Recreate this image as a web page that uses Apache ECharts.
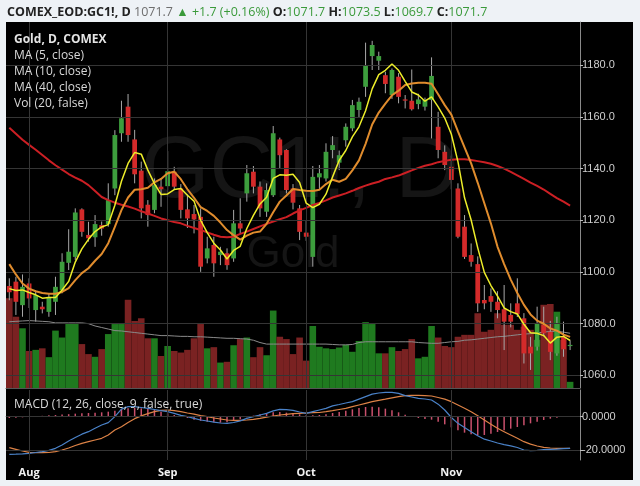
<!DOCTYPE html>
<html><head><meta charset="utf-8">
<script src="https://cdn.jsdelivr.net/npm/echarts@6/dist/echarts.min.js"></script>
<style>html,body{margin:0;padding:0;background:#eef2f6;}#c{width:640px;height:486px;}</style>
</head><body><div id="c"></div>
<script>
const dates = ['2015-07-29','2015-07-30','2015-07-31',
'2015-08-03','2015-08-04','2015-08-05','2015-08-06','2015-08-07','2015-08-10','2015-08-11','2015-08-12','2015-08-13','2015-08-14','2015-08-17','2015-08-18','2015-08-19','2015-08-20','2015-08-21','2015-08-24','2015-08-25','2015-08-26','2015-08-27','2015-08-28','2015-08-31',
'2015-09-01','2015-09-02','2015-09-03','2015-09-04','2015-09-08','2015-09-09','2015-09-10','2015-09-11','2015-09-14','2015-09-15','2015-09-16','2015-09-17','2015-09-18','2015-09-21','2015-09-22','2015-09-23','2015-09-24','2015-09-25','2015-09-28','2015-09-29','2015-09-30',
'2015-10-01','2015-10-02','2015-10-05','2015-10-06','2015-10-07','2015-10-08','2015-10-09','2015-10-12','2015-10-13','2015-10-14','2015-10-15','2015-10-16','2015-10-19','2015-10-20','2015-10-21','2015-10-22','2015-10-23','2015-10-26','2015-10-27','2015-10-28','2015-10-29','2015-10-30',
'2015-11-02','2015-11-03','2015-11-04','2015-11-05','2015-11-06','2015-11-09','2015-11-10','2015-11-11','2015-11-12','2015-11-13','2015-11-16','2015-11-17','2015-11-18','2015-11-19','2015-11-20','2015-11-23','2015-11-24','2015-11-25','2015-11-27'];

const monthStarts = ['2015-08-03','2015-09-01','2015-10-01','2015-11-02'];
const monthLabels = ['Aug','Sep','Oct','Nov'];
const priceTicks = [1060,1080,1100,1120,1140,1160,1180];
const macdTicks = [-20,0];

const opens = [1094.5,1096.2,1087.1,1095.5,1085.2,1086.5,1084.5,1088.4,1092.9,1103.5,
1105.8,1124.2,1114.3,1113.4,1118.1,1118.5,1132.3,1153.7,1164.0,1151.3,
1139.2,1126.0,1124.0,1133.0,1133.2,1138.8,1132.3,1124.2,1122.4,1121.3,
1105.2,1110.4,1106.5,1107.2,1105.2,1118.8,1130.4,1138.8,1133.0,1123.3,
1129.7,1151.3,1147.2,1132.3,1124.6,1115.2,1105.8,1136.6,1136.2,1147.2,
1142.3,1151.0,1155.6,1162.7,1171.7,1183.6,1181.8,1176.2,1168.5,1175.6,
1166.8,1166.3,1165.0,1164.0,1166.6,1156.2,1146.5,1140.7,1132.3,1117.5,
1106.5,1103.0,1089.1,1090.6,1088.4,1085.5,1083.3,1087.8,1082.0,1071.0,
1071.0,1079.4,1076.8,1068.4,1074.8,1071.7];
const highs = [1097.5,1098.1,1099.0,1097.5,1092.7,1088.4,1091.7,1098.1,1107.2,1116.5,
1124.6,1124.6,1119.4,1122.0,1119.5,1134.3,1154.9,1166.3,1168.9,1155.0,
1142.7,1127.8,1136.2,1136.2,1146.8,1140.7,1134.0,1130.0,1125.9,1124.6,
1113.6,1113.6,1109.7,1109.1,1124.0,1128.5,1141.4,1141.0,1135.0,1134.3,
1156.5,1152.0,1147.5,1134.0,1125.9,1120.0,1141.0,1141.4,1149.8,1152.6,
1147.0,1157.5,1166.6,1167.5,1188.8,1189.5,1185.3,1177.5,1178.8,1177.0,
1168.5,1178.4,1169.0,1167.5,1183.1,1162.0,1149.0,1145.0,1134.3,1122.0,
1111.0,1106.0,1094.9,1093.6,1092.5,1094.9,1087.8,1097.5,1084.0,1074.8,
1086.5,1086.5,1081.0,1082.6,1080.7,1073.5];
const lows = [1089.0,1083.3,1082.6,1086.0,1080.7,1083.9,1082.6,1083.3,1091.7,1100.7,
1104.6,1113.6,1111.7,1109.7,1114.0,1117.5,1129.7,1150.4,1150.4,1134.3,
1120.7,1117.5,1122.7,1125.2,1131.7,1131.7,1120.7,1117.0,1114.9,1100.0,
1103.3,1098.1,1102.6,1100.8,1103.9,1114.9,1127.2,1130.4,1121.3,1121.3,
1129.0,1140.1,1130.4,1124.2,1112.3,1112.0,1102.0,1131.7,1135.0,1144.0,
1139.4,1148.5,1154.5,1160.0,1167.8,1178.2,1178.2,1169.2,1167.0,1165.3,
1163.3,1162.5,1163.0,1162.5,1151.7,1144.0,1139.4,1132.0,1113.0,1105.0,
1102.0,1084.5,1085.5,1084.5,1082.0,1069.7,1078.5,1082.5,1064.5,1062.0,
1069.5,1075.0,1065.8,1067.5,1067.1,1069.7];
const closes = [1092.1,1088.4,1094.2,1089.7,1091.0,1085.5,1090.3,1094.2,1103.9,1107.8,
1123.0,1115.5,1113.0,1118.5,1116.8,1127.8,1153.0,1159.5,1153.0,1137.8,
1124.6,1122.0,1133.6,1132.0,1139.0,1133.0,1124.0,1120.7,1120.3,1102.0,
1109.1,1103.3,1107.8,1102.6,1118.8,1116.8,1138.2,1133.0,1124.6,1131.7,
1153.7,1145.2,1131.7,1126.8,1115.5,1113.6,1136.8,1138.2,1146.5,1149.1,
1145.2,1156.2,1164.6,1165.9,1180.1,1187.9,1183.6,1172.8,1178.2,1167.8,
1166.5,1163.0,1166.8,1166.6,1175.9,1147.2,1141.4,1135.6,1113.6,1105.8,
1103.9,1087.8,1087.8,1088.4,1085.2,1080.7,1080.7,1083.6,1068.4,1068.4,
1080.0,1076.2,1069.0,1080.0,1070.0,1071.7];

const ma5 = [1093.5,1092.8,1093.0,1092.0,1091.1,1089.8,1090.1,1090.1,1093.0,1096.3,
1103.8,1108.9,1112.6,1115.6,1117.4,1118.3,1125.8,1135.1,1142.0,1146.2,
1145.6,1139.4,1134.2,1130.0,1130.2,1131.9,1132.3,1129.7,1127.4,1120.0,
1115.2,1111.1,1108.5,1105.0,1108.3,1109.9,1116.8,1121.9,1126.3,1128.9,
1136.2,1137.6,1137.4,1137.8,1134.6,1126.6,1124.9,1126.2,1130.1,1136.8,
1143.2,1147.0,1152.3,1156.2,1162.4,1170.9,1176.4,1178.1,1180.5,1178.1,
1173.8,1169.7,1168.5,1166.1,1167.8,1163.9,1159.6,1153.3,1142.7,1128.7,
1120.1,1109.3,1099.8,1094.7,1090.6,1086.0,1084.6,1083.7,1079.7,1076.4,
1076.2,1075.3,1072.4,1074.7,1075.0,1073.4];
const ma10 = [1103.0,1099.0,1095.5,1093.5,1092.5,1091.8,1091.5,1091.5,1092.2,1093.7,
1096.8,1099.5,1101.4,1104.3,1106.9,1111.1,1117.4,1123.9,1128.8,1131.8,
1132.0,1132.6,1134.7,1136.0,1138.2,1138.8,1135.9,1132.0,1128.7,1125.1,
1123.6,1121.7,1119.1,1116.2,1114.2,1112.5,1114.0,1115.2,1115.6,1118.6,
1123.1,1127.2,1129.6,1132.1,1131.7,1131.4,1131.3,1131.8,1134.0,1135.7,
1134.9,1136.0,1139.3,1143.2,1149.6,1157.1,1161.7,1165.2,1168.4,1170.2,
1172.4,1173.0,1173.3,1173.3,1172.9,1168.8,1164.6,1160.9,1154.4,1148.2,
1142.0,1134.5,1126.6,1118.7,1109.7,1103.0,1097.0,1091.8,1087.2,1083.5,
1081.1,1079.9,1078.1,1077.2,1075.7,1074.8];
const ma40 = [1155.8,1153.5,1151.2,1149.2,1147.3,1145.3,1143.2,1141.3,1139.6,1137.9,
1136.5,1135.3,1133.6,1131.3,1129.0,1127.8,1126.8,1126.0,1125.3,1124.5,
1123.5,1122.6,1121.7,1120.7,1120.0,1119.3,1118.8,1117.8,1117.0,1116.2,
1115.3,1114.4,1113.6,1113.4,1113.6,1114.7,1115.6,1116.6,1117.6,1118.6,
1119.5,1120.4,1121.2,1122.6,1123.8,1124.8,1125.9,1126.7,1127.7,1128.8,
1129.6,1130.4,1131.4,1132.5,1133.4,1134.2,1134.9,1136.0,1136.6,1137.3,
1138.3,1139.3,1140.3,1141.1,1141.7,1142.5,1143.0,1143.4,1143.6,1143.6,
1143.3,1142.9,1142.5,1141.9,1141.0,1140.0,1138.7,1137.4,1136.0,1134.6,
1133.3,1131.9,1130.2,1128.6,1127.2,1125.7];

const volumes = [233,185,155,96,99,103,80,149,131,168,
168,114,88,81,101,140,166,166,229,174,
181,129,129,83,109,96,92,99,129,166,
103,106,66,68,111,127,131,80,106,85,
201,133,127,88,131,71,161,107,103,101,
105,112,94,122,171,166,90,90,106,96,
101,127,77,81,161,131,109,106,133,138,
138,194,146,151,194,164,164,151,159,151,
125,216,218,198,125,16];
const volMA = [172,173,174,175,174,173,172,169,169,169,
169,169,167,161,157,153,149,148,146,144,
142,140,138,136,136,135,134,134,133,133,
132,131,130,129,129,128,127,124,118,114,
114,114,114,114,114,114,114,114,114,113,
112,112,113,118,120,120,120,120,120,120,
120,120,118,117,116,116,118,120,121,124,
125,127,129,131,133,134,136,138,140,141,
143,145,147,147,145,142];

const macdLine = [-22.6,-22.5,-22.3,-22.0,-21.5,-21.0,-20.2,-19.0,-17.0,-14.6,
-12.5,-10.5,-9.0,-7.0,-5.0,-3.6,0.0,4.5,6.0,6.0,
5.5,5.0,4.3,3.6,3.0,2.0,0.8,0.0,-1.0,-2.0,
-2.6,-3.3,-3.8,-4.0,-3.5,-2.5,-1.0,0.0,1.0,2.0,
3.5,4.4,4.2,3.8,2.8,2.0,3.0,4.0,5.0,6.5,
7.3,8.2,9.0,10.5,12.0,13.5,14.2,14.6,14.6,14.0,
12.6,11.8,11.0,10.6,10.0,7.5,4.0,-0.5,-4.0,-6.5,
-9.0,-11.5,-13.5,-14.6,-15.8,-16.8,-17.5,-18.5,-20.0,-20.4,
-20.2,-19.8,-19.6,-19.5,-19.2,-19.0];
const signalLine = [-18.6,-19.6,-20.6,-21.4,-21.6,-21.6,-21.5,-21.0,-20.0,-18.8,
-17.3,-16.0,-15.0,-14.0,-13.0,-11.0,-8.0,-6.0,-3.5,-1.2,
0.5,1.8,3.0,3.8,4.0,3.6,3.0,2.2,1.5,0.6,
0.0,-0.8,-1.4,-2.0,-2.2,-2.2,-2.0,-1.6,-1.0,-0.3,
0.4,1.0,1.4,1.8,2.0,2.2,2.4,2.5,3.0,3.6,
4.3,5.0,6.0,7.0,8.0,9.0,9.8,10.5,11.3,12.0,
12.6,12.8,12.8,12.6,12.4,11.5,10.5,9.0,7.0,5.0,
3.0,0.5,-2.0,-4.5,-7.0,-9.0,-11.0,-13.0,-15.0,-16.5,
-17.6,-18.4,-18.8,-19.0,-19.0,-19.0];
const histogram = [-0.8,-0.6,-0.4,-0.2,0.3,0.5,0.8,1.0,1.3,1.5,
1.8,2.0,2.2,2.4,2.6,3.0,3.6,4.5,5.0,5.2,
5.0,4.6,4.0,3.0,2.0,1.0,0.2,-0.8,-1.8,-2.5,
-3.0,-3.4,-3.6,-3.4,-2.6,-1.6,-0.4,0.6,1.4,2.0,
2.6,2.8,2.4,2.0,1.4,0.8,0.8,1.0,1.5,2.2,
2.8,3.6,4.4,5.2,5.8,6.0,5.6,4.8,3.8,2.6,
1.2,0.0,-0.8,-1.4,-1.8,-3.0,-4.6,-6.4,-8.2,-9.6,
-10.6,-11.2,-11.0,-10.2,-9.2,-8.2,-7.2,-6.2,-5.2,-4.0,
-3.0,-2.0,-1.2,-0.6,-0.2,0.1];

// ---------- build ----------
const cats = dates.concat(['']);
const n = dates.length;
const UP = '#3d9e3d', DOWN = '#d42a2a', WICK = '#a8a8a8';
const candleData = dates.map((d, i) => [i, opens[i], closes[i], lows[i], highs[i]]);
const volData = volumes.map((v, i) => ({value: v, itemStyle: {color: closes[i] >= opens[i] ? '#1f7a1f' : '#7a2222'}}));
const last = n - 1;
const lastC = closes[last], prevC = closes[last - 1];
const chg = lastC - prevC, pct = chg / prevC * 100;
const gridLine = {color: '#353535', width: 1, type: 'solid'};
const FONT = 'Open Sans';
const WM = '#151515';

const chart = echarts.init(document.getElementById('c'), null, {width: 640, height: 486});
const fmtSigned = v => (v >= 0 ? '+' : '') + v.toFixed(1);

const option = {
  animation: false,
  backgroundColor: '#eef2f6',
  grid: [
    {left: 6, top: 22, width: 574, height: 366},
    {left: 6, top: 390, width: 574, height: 70}
  ],
  xAxis: [
    {type: 'category', gridIndex: 0, data: cats, boundaryGap: true,
     axisLine: {show: true, lineStyle: {color: '#555'}}, axisTick: {show: false}, axisLabel: {show: false}, splitLine: {show: false}},
    {type: 'category', gridIndex: 1, data: cats, boundaryGap: true,
     axisLine: {show: true, lineStyle: {color: '#8c8c8c'}}, axisTick: {show: false},
     axisLabel: {color: '#f2f2f2', fontWeight: 'bold', fontSize: 11, fontFamily: FONT, margin: 7,
       interval: (idx, val) => monthStarts.indexOf(val) >= 0,
       formatter: val => monthLabels[monthStarts.indexOf(val)] || ''},
     splitLine: {show: false}}
  ],
  yAxis: [
    {type: 'value', gridIndex: 0, position: 'right', min: 1055, max: 1196.8, scale: true,
     axisLine: {show: true, lineStyle: {color: '#8a8a8a'}},
     axisTick: {show: true, length: 3, lineStyle: {color: '#bbb'}, customValues: priceTicks},
     axisLabel: {color: '#cfcfcf', fontSize: 11, fontFamily: 'Liberation Sans', margin: 2,
       customValues: priceTicks, formatter: v => v.toFixed(1)},
     splitLine: {show: false}},
    {type: 'value', gridIndex: 0, min: 0, max: 950, show: false, splitLine: {show: false}},
    {type: 'value', gridIndex: 1, position: 'right', min: -26, max: 16,
     axisLine: {show: true, lineStyle: {color: '#8a8a8a'}},
     axisTick: {show: true, length: 3, lineStyle: {color: '#bbb'}, customValues: macdTicks},
     axisLabel: {color: '#cfcfcf', fontSize: 11, fontFamily: 'Liberation Sans', margin: 2,
       customValues: macdTicks, formatter: v => v.toFixed(4)},
     splitLine: {show: false}}
  ],
  graphic: [
    {type: 'rect', z: -100, shape: {x: 6, y: 22, width: 627, height: 458}, style: {fill: '#000'}},
    {type: 'text', z: -90, x: 300, y: 173, style: {text: 'GC1!, D', font: '88px "Liberation Sans"', fill: WM, align: 'center', verticalAlign: 'middle'}},
    {type: 'text', z: -90, x: 293, y: 255, style: {text: 'Gold', font: '44px "Liberation Sans"', fill: WM, align: 'center', verticalAlign: 'middle'}},
    {type: 'text', z: 100, x: 7, y: 12, style: {
      text: '{b|COMEX_EOD:GC1!, D} {g|' + lastC.toFixed(1) + '} {gr|\u25B2 ' + fmtSigned(chg) + ' (' + (pct >= 0 ? '+' : '') + pct.toFixed(2) + '%)} ' +
            '{b|O:}{gr|' + opens[last].toFixed(1) + '} {b|H:}{gr|' + highs[last].toFixed(1) + '} {b|L:}{gr|' + lows[last].toFixed(1) + '} {b|C:}{gr|' + closes[last].toFixed(1) + '}',
      verticalAlign: 'middle', font: '12.5px "Open Sans"',
      rich: {
        b: {fontFamily: FONT, fontSize: 12.5, fontWeight: 'bold', fill: '#222', color: '#222'},
        g: {fontFamily: FONT, fontSize: 12.5, fill: '#6e6e6e', color: '#6e6e6e'},
        gr: {fontFamily: FONT, fontSize: 12.5, fill: '#3a9a3a', color: '#3a9a3a'}
      }}},
    {type: 'text', z: 100, x: 14, y: 40, style: {text: 'Gold, D, COMEX', font: 'bold 12px "Open Sans"', fill: '#e4e4e4', verticalAlign: 'middle'}},
    {type: 'text', z: 100, x: 14, y: 56, style: {text: 'MA (5, close)', font: '12px "Open Sans"', fill: '#d8d8d8', verticalAlign: 'middle'}},
    {type: 'text', z: 100, x: 14, y: 72, style: {text: 'MA (10, close)', font: '12px "Open Sans"', fill: '#d8d8d8', verticalAlign: 'middle'}},
    {type: 'text', z: 100, x: 14, y: 88, style: {text: 'MA (40, close)', font: '12px "Open Sans"', fill: '#d8d8d8', verticalAlign: 'middle'}},
    {type: 'text', z: 100, x: 14, y: 104, style: {text: 'Vol (20, false)', font: '12px "Open Sans"', fill: '#d8d8d8', verticalAlign: 'middle'}},
    {type: 'text', z: 100, x: 14, y: 405, style: {text: 'MACD (12, 26, close, 9, false, true)', font: '12px "Open Sans"', fill: '#d8d8d8', verticalAlign: 'middle'}}
  ],
  series: [
    {type: 'line', name: 'grid-main', xAxisIndex: 0, yAxisIndex: 0, data: [], z: 0, silent: true,
     markLine: {symbol: ['none', 'none'], silent: true, animation: false, label: {show: false}, lineStyle: gridLine,
       data: priceTicks.map(v => ({yAxis: v})).concat(monthStarts.map(d => ({xAxis: d})))}},
    {type: 'line', name: 'grid-macd', xAxisIndex: 1, yAxisIndex: 2, data: [], z: 0, silent: true,
     markLine: {symbol: ['none', 'none'], silent: true, animation: false, label: {show: false}, lineStyle: gridLine,
       data: macdTicks.map(v => ({yAxis: v})).concat(monthStarts.map(d => ({xAxis: d})))}},
    {type: 'bar', name: 'Vol', xAxisIndex: 0, yAxisIndex: 1, data: volData, barWidth: '100%', z: 1},
    {type: 'line', name: 'VolMA', xAxisIndex: 0, yAxisIndex: 1, data: volMA, showSymbol: false, z: 2,
     lineStyle: {color: '#8a8a8a', width: 1}},
    {type: 'custom', name: 'Gold', xAxisIndex: 0, yAxisIndex: 0, data: candleData, z: 3,
     encode: {x: 0, y: [1, 2, 3, 4]},
     renderItem: (params, api) => {
       const i = api.value(0), o = api.value(1), c = api.value(2), l = api.value(3), h = api.value(4);
       const pO = api.coord([i, o]), pC = api.coord([i, c]), pL = api.coord([i, l]), pH = api.coord([i, h]);
       const w = api.size([1, 0])[0] * 0.72;
       const top = Math.min(pO[1], pC[1]);
       const bh = Math.max(Math.abs(pO[1] - pC[1]), 1.2);
       return {type: 'group', children: [
         {type: 'line', shape: {x1: pH[0], y1: pH[1], x2: pL[0], y2: pL[1]}, style: {stroke: WICK, lineWidth: 1}},
         {type: 'rect', shape: {x: pO[0] - w / 2, y: top, width: w, height: bh}, style: {fill: c >= o ? UP : DOWN}}
       ]};
     }},
    {type: 'line', name: 'MA40', xAxisIndex: 0, yAxisIndex: 0, data: ma40, showSymbol: false, z: 4,
     lineStyle: {color: '#cc1f24', width: 2},
     markLine: {symbol: ['none', 'none'], silent: true, animation: false,
       data: [{yAxis: lastC, lineStyle: {opacity: 0},
         label: {show: true, position: 'end', distance: 1, formatter: lastC.toFixed(1), color: '#fff',
           backgroundColor: '#4caf50', padding: [3, 5, 2, 5], fontSize: 11, fontFamily: 'Liberation Sans'}}]}},
    {type: 'line', name: 'MA10', xAxisIndex: 0, yAxisIndex: 0, data: ma10, showSymbol: false, z: 5,
     lineStyle: {color: '#e08c2d', width: 2}},
    {type: 'line', name: 'MA5', xAxisIndex: 0, yAxisIndex: 0, data: ma5, showSymbol: false, z: 6,
     lineStyle: {color: '#eded2a', width: 1.5}},
    {type: 'bar', name: 'Hist', xAxisIndex: 1, yAxisIndex: 2, data: histogram, barWidth: 1.5, z: 2,
     itemStyle: {color: '#c9506c'}},
    {type: 'line', name: 'Signal', xAxisIndex: 1, yAxisIndex: 2, data: signalLine, showSymbol: false, z: 3,
     lineStyle: {color: '#dc8246', width: 1.2}},
    {type: 'line', name: 'MACD', xAxisIndex: 1, yAxisIndex: 2, data: macdLine, showSymbol: false, z: 4,
     lineStyle: {color: '#4a82c8', width: 1.2}}
  ]
};
chart.setOption(option);
</script></body></html>
